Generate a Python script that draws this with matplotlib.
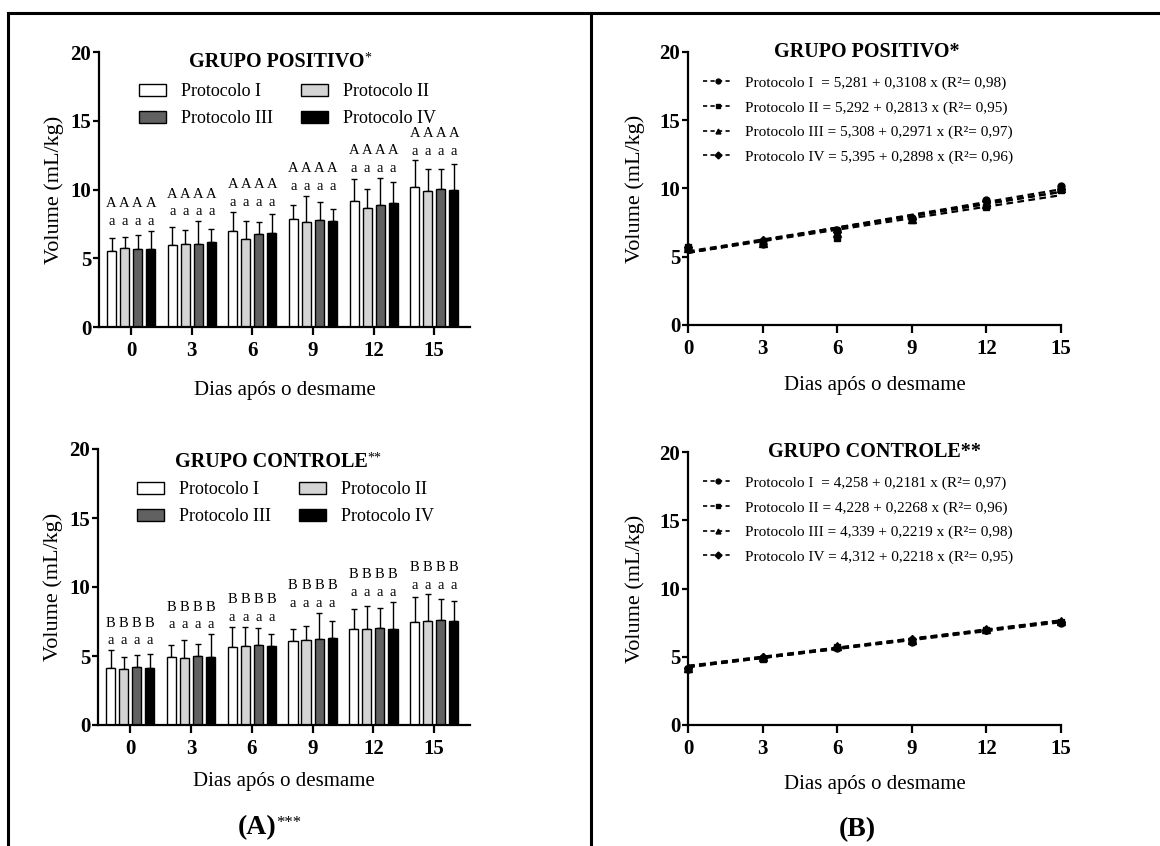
#!/usr/bin/env python3
"""Volume (mL/kg) after weaning: bar charts (A) and linear fits (B)."""

import matplotlib
matplotlib.use("Agg")
import matplotlib.pyplot as plt
from matplotlib.lines import Line2D
from matplotlib.patches import Patch
from matplotlib.text import Annotation
import numpy as np

W, H = 1160, 846

days = [0, 3, 6, 9, 12, 15]
protocols = ["Protocolo I", "Protocolo II", "Protocolo III", "Protocolo IV"]

# means (mL/kg) per protocol, positive group
pos_I = [5.56, 5.97, 6.99, 7.84, 9.13, 10.15]
pos_II = [5.73, 6.07, 6.41, 7.67, 8.64, 9.88]
pos_III = [5.66, 6.04, 6.77, 7.79, 8.88, 10.02]
pos_IV = [5.70, 6.21, 6.82, 7.74, 9.05, 9.95]
# standard deviations, positive group
pos_sd_I = [0.94, 1.29, 1.41, 1.02, 1.60, 1.99]
pos_sd_II = [0.85, 0.99, 1.31, 1.89, 1.43, 1.60]
pos_sd_III = [1.01, 1.68, 0.90, 1.29, 1.99, 1.46]
pos_sd_IV = [1.31, 0.90, 1.43, 0.83, 1.53, 1.94]

# means, control group
ctl_I = [4.11, 4.91, 5.63, 6.09, 6.94, 7.47]
ctl_II = [4.09, 4.86, 5.71, 6.17, 6.99, 7.52]
ctl_III = [4.21, 4.98, 5.78, 6.24, 7.04, 7.59]
ctl_IV = [4.16, 4.96, 5.73, 6.29, 6.96, 7.55]
ctl_sd_I = [1.33, 0.89, 1.46, 0.87, 1.50, 1.84]
ctl_sd_II = [0.87, 1.31, 1.42, 0.99, 1.64, 1.96]
ctl_sd_III = [0.87, 0.92, 1.26, 1.91, 1.47, 1.53]
ctl_sd_IV = [1.02, 1.64, 0.90, 1.28, 1.96, 1.40]

# significance letters
upper_pos = "A"
upper_ctl = "B"
lower_all = "a"

# regression fits (intercept, slope, R2)
pos_fit_a = [5.281, 5.292, 5.308, 5.395]
pos_fit_b = [0.3108, 0.2813, 0.2971, 0.2898]
pos_fit_r2 = ["0,98", "0,95", "0,97", "0,96"]
ctl_fit_a = [4.258, 4.228, 4.339, 4.312]
ctl_fit_b = [0.2181, 0.2268, 0.2219, 0.2218]
ctl_fit_r2 = ["0,97", "0,96", "0,98", "0,95"]

bar_colors = ["white", "#d4d4d4", "#616161", "black"]
markers = ["o", "s", "^", "D"]
msizes = [5, 5, 5.5, 4.5]

plt.rcParams["font.family"] = ["Liberation Serif", "DejaVu Serif"]
plt.rcParams["axes.linewidth"] = 1.6

fig = plt.figure(figsize=(W / 100, H / 100), dpi=100)


def px_axes(left, top, right, bottom):
    ax = fig.add_axes([left / W, 1 - bottom / H, (right - left) / W, (bottom - top) / H])
    ax.set_facecolor("none")
    return ax


def style_axes(ax, ylab_x, xlab_y):
    for s in ("top", "right"):
        ax.spines[s].set_visible(False)
    ax.set_ylim(0, 20)
    ax.set_yticks([0, 5, 10, 15, 20])
    ax.tick_params(axis="y", length=4.5, width=1.6, pad=1, labelsize=15)
    ax.tick_params(axis="x", length=6, width=1.6, pad=4, labelsize=15)
    for lab in ax.get_xticklabels() + ax.get_yticklabels():
        lab.set_fontweight("bold")
    ax.set_ylabel("Volume (mL/kg)", fontsize=16)
    ax.set_xlabel("Dias após o desmame", fontsize=15)
    ax.yaxis.set_label_coords(ylab_x, 0.5)
    ax.xaxis.set_label_coords(0.5, xlab_y)


def bar_panel(ax, means, sds, upper, xlab_y):
    x = np.arange(len(days))
    step, width = 0.215, 0.15
    tops = []
    for i, (m, sd) in enumerate(zip(means, sds)):
        xi = x + (i - 1.5) * step
        ax.bar(xi, m, width=width, color=bar_colors[i], edgecolor="black",
               linewidth=1.0, zorder=2)
        ax.errorbar(xi, m, yerr=[np.zeros(len(sd)), sd], fmt="none",
                    ecolor="black", elinewidth=1.0, capsize=2.5, capthick=1.0, zorder=1)
        tops.append(np.array(m) + np.array(sd))
    gmax = np.max(np.vstack(tops), axis=0)
    for g in range(len(days)):
        for i in range(4):
            xi = g + (i - 1.5) * step
            ax.text(xi, gmax[g] + 0.65, lower_all, ha="center", va="center", fontsize=10.5)
            ax.text(xi, gmax[g] + 1.95, upper, ha="center", va="center", fontsize=10.5)
    ax.set_xlim(-0.53, 5.59)
    ax.set_xticks(x)
    ax.set_xticklabels([str(d) for d in days])
    style_axes(ax, -0.095, xlab_y)


def fit_panel(ax, means, fa, fb, fr2, legend_top, xlab_y):
    xs = np.array(days)
    handles = []
    for i in range(4):
        ax.plot(xs, means[i], linestyle="none", marker=markers[i], ms=msizes[i],
                color="black", clip_on=False, zorder=3)
        ax.plot([0, 15], [fa[i], fa[i] + fb[i] * 15], color="black", lw=1.6,
                dashes=(3, 2), zorder=2)
        handles.append(Line2D([], [], color="black", lw=1.2, dashes=(2.5, 2),
                              marker=markers[i], ms=3.5))
    labels = []
    for i in range(4):
        name = protocols[i] + (" " if i == 0 else "")
        a = f"{fa[i]:.3f}".replace(".", ",")
        b = f"{fb[i]:.4f}".replace(".", ",")
        labels.append(f"{name} = {a} + {b} x (R²= {fr2[i]})")
    fig.legend(handles, labels, loc="upper left", frameon=False, fontsize=11,
               bbox_to_anchor=(703 / W, 1 - legend_top / H), bbox_transform=fig.transFigure,
               borderpad=0, borderaxespad=0, handlelength=1.9, handletextpad=0.85,
               labelspacing=0.71)
    ax.set_xlim(0, 15)
    ax.set_xticks(days)
    style_axes(ax, -0.115, xlab_y)


def bar_legend(top, left):
    patches = [Patch(facecolor=c, edgecolor="black", linewidth=1.0) for c in bar_colors]
    order = [0, 2, 1, 3]
    fig.legend([patches[k] for k in order], [protocols[k] for k in order],
               ncol=2, loc="upper left", frameon=False, fontsize=13,
               bbox_to_anchor=(left / W, 1 - top / H), bbox_transform=fig.transFigure,
               borderpad=0, borderaxespad=0, handlelength=1.5, handleheight=0.65,
               handletextpad=0.8, columnspacing=1.6, labelspacing=0.57)


def title(text, x, y, stars="", size=14.5, star_size=10):
    t = fig.text(x / W, 1 - y / H, text, ha="center", va="center",
                 fontsize=size, fontweight="bold")
    if stars:
        fig.add_artist(Annotation(stars, xy=(1, 1), xycoords=t, ha="left", va="top",
                                  fontsize=star_size, annotation_clip=False))
    return t


# panel A
ax1 = px_axes(99, 52, 470, 327)
bar_panel(ax1, [pos_I, pos_II, pos_III, pos_IV],
          [pos_sd_I, pos_sd_II, pos_sd_III, pos_sd_IV], upper_pos, -0.195)
ax2 = px_axes(98, 449, 470, 725)
bar_panel(ax2, [ctl_I, ctl_II, ctl_III, ctl_IV],
          [ctl_sd_I, ctl_sd_II, ctl_sd_III, ctl_sd_IV], upper_ctl, -0.17)

# panel B
ax3 = px_axes(688, 52, 1061, 325)
fit_panel(ax3, [pos_I, pos_II, pos_III, pos_IV], pos_fit_a, pos_fit_b, pos_fit_r2, 76, -0.187)
ax4 = px_axes(688, 452, 1061, 725)
fit_panel(ax4, [ctl_I, ctl_II, ctl_III, ctl_IV], ctl_fit_a, ctl_fit_b, ctl_fit_r2, 476, -0.183)

bar_legend(83, 139)
bar_legend(481, 137)

title("GRUPO POSITIVO", 277, 62, "*")
title("GRUPO CONTROLE", 271, 462, "**")
title("GRUPO POSITIVO*", 867, 52)
title("GRUPO CONTROLE**", 874, 452)

title("(A)", 257, 828, "***", size=20, star_size=12)
title("(B)", 857, 830, size=20)

# frame lines
lw = 2.2
fig.add_artist(Line2D([8 / W, 1], [1 - 13 / H, 1 - 13 / H], color="black", lw=lw,
                      transform=fig.transFigure))
fig.add_artist(Line2D([8 / W, 8 / W], [0, 1 - 13 / H], color="black", lw=lw,
                      transform=fig.transFigure))
fig.add_artist(Line2D([591 / W, 591 / W], [0, 1 - 13 / H], color="black", lw=lw,
                      transform=fig.transFigure))

fig.savefig("out.png", dpi=100)
